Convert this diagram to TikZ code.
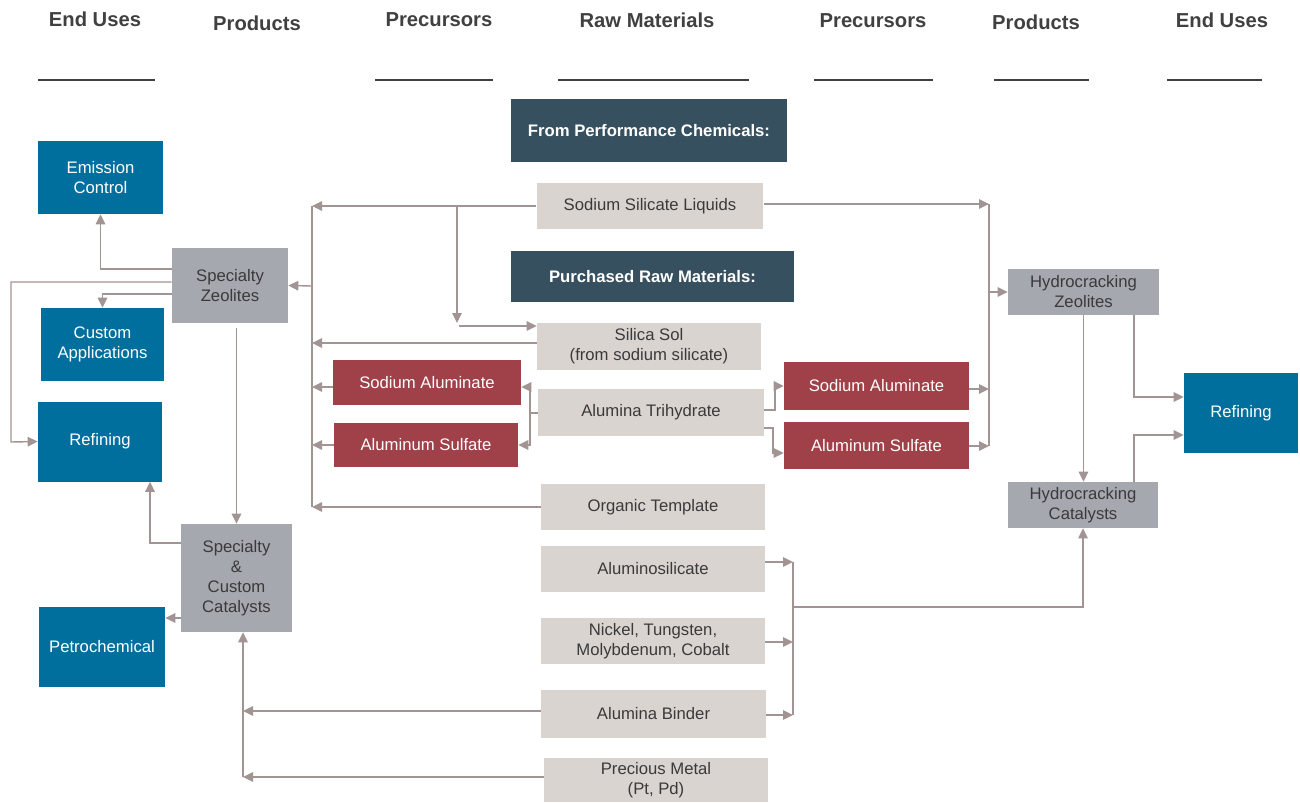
\documentclass[tikz,border=0pt]{standalone}
\usepackage{fontspec}
\setmainfont{Liberation Sans}
\usetikzlibrary{arrows.meta}
\definecolor{enduseblue}{RGB}{0,111,158}
\definecolor{productgray}{RGB}{166,168,176}
\definecolor{rawbeige}{RGB}{218,212,208}
\definecolor{precred}{RGB}{160,64,72}
\definecolor{bannerslate}{RGB}{55,80,95}
\definecolor{textdark}{RGB}{58,58,58}
\definecolor{headgray}{RGB}{64,64,64}
\definecolor{linkbrown}{RGB}{163,148,148}

\begin{document}
\begin{tikzpicture}[
    x=0.02cm, y=-0.02cm,
    base/.style={rectangle, inner sep=0pt, align=center, font=\fontsize{9.5}{11.4}\selectfont},
    wh/.style 2 args={minimum width=#1cm, minimum height=#2cm},
    enduse/.style={base, fill=enduseblue, text=white},
    product/.style={base, fill=productgray, text=textdark},
    raw/.style={base, fill=rawbeige, text=textdark},
    precursor/.style={base, fill=precred, text=white},
    banner/.style={base, fill=bannerslate, text=white, font=\fontsize{9.5}{11.4}\selectfont\bfseries},
    head/.style={font=\fontsize{11.5}{14}\selectfont\bfseries, text=headgray},
    rule/.style={line width=0.9pt, draw=headgray},
    link/.style={line width=0.8pt, draw=linkbrown},
    arrow/.style={link, -{Triangle[length=2mm, width=1.9mm]}}
]
\path[use as bounding box, fill=white] (0,0) rectangle (1300,802);

\node[head] (hendl) at (95,19) {End Uses};
\node[head] (hprodl) at (257,23) {Products};
\node[head] (hprel) at (439,20) {Precursors};
\node[head] (hraw) at (647,20) {Raw Materials};
\node[head] (hprer) at (873,21) {Precursors};
\node[head] (hprodr) at (1036,22) {Products};
\node[head] (hendr) at (1222,20) {End Uses};
\draw[rule] (38,80) -- (155,80);
\draw[rule] (375,80) -- (493,80);
\draw[rule] (558,80) -- (749,80);
\draw[rule] (814,80) -- (933,80);
\draw[rule] (994,80) -- (1089,80);
\draw[rule] (1167,80) -- (1262,80);

\node[enduse, wh={2.5}{1.46}] (emis) at (100.5,177.5) {Emission\\Control};
\node[enduse, wh={2.48}{1.46}] (custom) at (102.5,344.5) {Custom\\Applications};
\node[enduse, wh={2.48}{1.6}] (refl) at (100,441.5) {Refining};
\node[enduse, wh={2.52}{1.6}] (petro) at (102,646.5) {Petrochemical};
\node[product, wh={2.32}{1.5}] (zeo) at (230,285.5) {Specialty\\Zeolites};
\node[product, wh={2.22}{2.16}] (cat) at (236.5,578) {Specialty\\\&\\Custom\\Catalysts};

\node[banner, wh={5.52}{1.26}] (fpc) at (649,130.5) {From Performance Chemicals:};
\node[raw, wh={4.54}{0.92}] (ssl) at (650,206) {Sodium Silicate Liquids};
\node[banner, wh={5.66}{1.02}] (prm) at (652.5,276.5) {Purchased Raw Materials:};
\node[raw, wh={4.48}{0.94}] (sol) at (649,346.5) {Silica Sol\\(from sodium silicate)};
\node[raw, wh={4.52}{0.94}] (ath) at (651,412.5) {Alumina Trihydrate};
\node[raw, wh={4.48}{0.92}] (org) at (653,507) {Organic Template};
\node[raw, wh={4.48}{0.92}] (alsi) at (653,569) {Aluminosilicate};
\node[raw, wh={4.48}{0.92}] (ni) at (653,641) {Nickel, Tungsten,\\Molybdenum, Cobalt};
\node[raw, wh={4.5}{0.96}] (bind) at (653.5,714) {Alumina Binder};
\node[raw, wh={4.48}{0.88}] (prec) at (656,780) {Precious Metal\\(Pt, Pd)};

\node[precursor, wh={3.76}{0.9}] (nal) at (427,382.5) {Sodium Aluminate};
\node[precursor, wh={3.68}{0.88}] (asl) at (426,445) {Aluminum Sulfate};
\node[precursor, wh={3.7}{0.96}] (nar) at (876.5,386) {Sodium Aluminate};
\node[precursor, wh={3.7}{0.94}] (asr) at (876.5,445.5) {Aluminum Sulfate};

\node[product, wh={3.02}{0.92}] (hzeo) at (1083.5,292) {Hydrocracking\\Zeolites};
\node[product, wh={3.0}{0.92}] (hcat) at (1083,505) {Hydrocracking\\Catalysts};
\node[enduse, wh={2.28}{1.6}] (refr) at (1241,413) {Refining};

\draw[arrow] (zeo.west |- 0,269) -| (emis.south);
\draw[arrow] (zeo.west |- 0,282) -| (11,442) -- (refl.west);
\draw[arrow] (zeo.west |- 0,294) -| (custom.north);
\draw[arrow] (cat.north |- 0,328) -- (cat.north);
\draw[arrow] (cat.west |- 0,543) -| (refl.south -| 150,0);
\draw[arrow] (cat.west |- 0,618) -- (petro.east |- 0,618);

\coordinate (catjoin) at (243,777);
\draw[arrow] (bind.west |- 0,711) -- (catjoin |- 0,711);
\draw[arrow] (prec.west |- catjoin) -- (catjoin);
\draw[arrow] (catjoin) -- (cat.south -| catjoin);

\coordinate (lcol) at (312,206);
\draw[link] (lcol) -- (lcol |- org.west);
\draw[arrow] (ssl.west) -- (lcol);
\draw[arrow] (org.west) -- (lcol |- org.west);
\draw[arrow] (lcol |- 0,286) -- (zeo.east);
\draw[arrow] (sol.west |- 0,343) -- (lcol |- 0,343);
\draw[arrow] (nal.west |- 0,387) -- (lcol |- 0,387);
\draw[arrow] (asl.west) -- (lcol |- asl.west);

\draw[arrow] (457,206) -- (457,323);
\draw[arrow] (459,326) -- (sol.west |- 0,326);

\coordinate (athl) at (530,413);
\draw[link] (ath.west |- athl) -- (athl);
\draw[arrow] (athl) |- (nal.east |- 0,387);
\draw[arrow] (athl) |- (asl.east);
\draw[arrow] (ath.east |- 0,410) -- (775,410) |- (nar.west);
\draw[arrow] (ath.east |- 0,428) -- (773,428) |- (asr.west |- 0,453);

\coordinate (rcol) at (989,204);
\draw[link] (rcol) -- (rcol |- 0,446);
\draw[arrow] (ssl.east |- rcol) -- (rcol);
\draw[arrow] (nar.east |- 0,389) -- (rcol |- 0,389);
\draw[arrow] (asr.east |- 0,446) -- (rcol |- 0,446);
\draw[arrow] (rcol |- hzeo.west) -- (hzeo.west);

\draw[arrow] (hzeo.south) -- (hzeo.south |- hcat.north);
\draw[arrow] (hzeo.south -| 1134,0) |- (refr.west |- 0,397);
\draw[arrow] (hcat.north -| 1134,0) |- (refr.west |- 0,435);

\coordinate (bcol) at (793,562);
\draw[link] (bcol) -- (bcol |- 0,715);
\draw[arrow] (alsi.east |- bcol) -- (bcol);
\draw[arrow] (ni.east |- 0,642) -- (bcol |- 0,642);
\draw[arrow] (bind.east |- 0,715) -- (bcol |- 0,715);
\draw[arrow] (bcol |- 0,607) -| (hcat.south);
\end{tikzpicture}
\end{document}
